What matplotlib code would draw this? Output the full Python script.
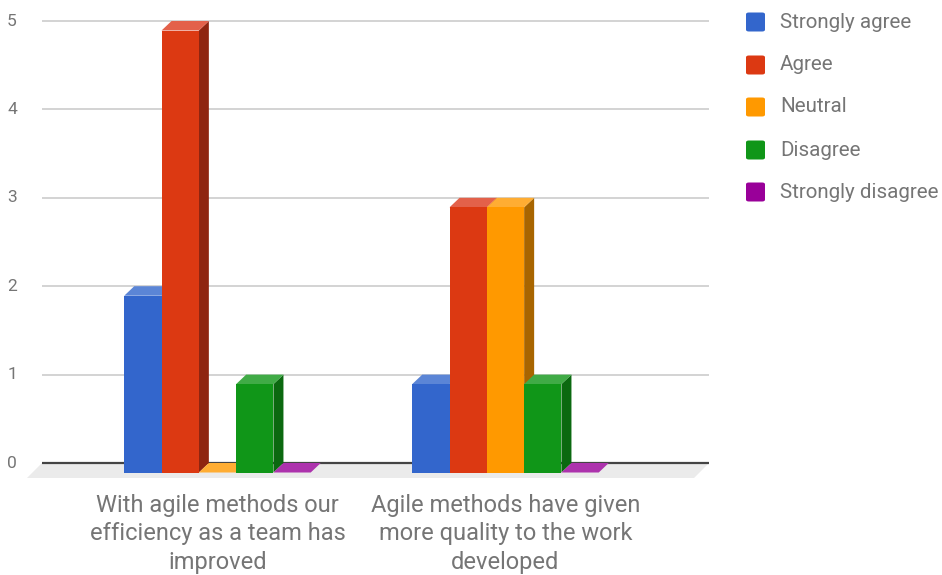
import matplotlib
matplotlib.use("Agg")
import matplotlib.pyplot as plt
from matplotlib.patches import Polygon, FancyBboxPatch

plt.rcParams['font.family'] = ['Roboto', 'DejaVu Sans']

# ---- data ----
categories = ["With agile methods our\nefficiency as a team has\nimproved",
              "Agile methods have given\nmore quality to the work\ndeveloped"]
series_names = ["Strongly agree", "Agree", "Neutral", "Disagree", "Strongly disagree"]
strongly_agree = [2, 1]
agree = [5, 3]
neutral = [0, 3]
disagree = [1, 1]
strongly_disagree = [0, 0]
y_ticks = [0, 1, 2, 3, 4, 5]

series_values = [strongly_agree, agree, neutral, disagree, strongly_disagree]
front_colors = ["#3366cc", "#dc3912", "#ff9900", "#109618", "#990099"]
top_colors = ["#5b85d6", "#e3614a", "#ffad33", "#40ab46", "#ad33ad"]
side_colors = ["#24478f", "#8f2510", "#a86500", "#0b6910", "#660066"]

# ---- layout (pixels) ----
W, H = 942, 575
fig = plt.figure(figsize=(W / 100, H / 100), dpi=100)
ax = fig.add_axes([0, 0, 1, 1])
ax.axis('off')

X_UNIT = 288.0      # px per category
Y_UNIT = 88.4       # px per value unit
X0_PX = 227.5       # px (from left) of category 0 centre (back plane)
Y0_PX = 463.0       # px (from top) of value 0 (back plane)

ax.set_xlim(-X0_PX / X_UNIT, (W - X0_PX) / X_UNIT)
ax.set_ylim(-(H - Y0_PX) / Y_UNIT, Y0_PX / Y_UNIT)

def px_x(px):
    return (px - X0_PX) / X_UNIT

DX = 10 / X_UNIT
DY = 9.5 / Y_UNIT
BAR_W = 37.3 / X_UNIT

grid_l, grid_r = px_x(42), px_x(709)

# floor
fdx, fdy = 15 / X_UNIT, 15 / Y_UNIT
ax.add_patch(Polygon([(grid_l, 0), (grid_r, 0), (grid_r - fdx, -fdy), (grid_l - fdx, -fdy)],
                     closed=True, facecolor="#ebebeb", edgecolor="none", zorder=1))

# gridlines
for t in y_ticks:
    if t == 0:
        continue
    ax.plot([grid_l, grid_r], [t, t], color="#cccccc", lw=1.2, zorder=2, solid_capstyle='butt')
ax.plot([grid_l, grid_r], [0, 0], color="#444444", lw=1.6, zorder=3, solid_capstyle='butt')

# y tick labels
for t in y_ticks:
    ax.text(px_x(12), t, str(t), ha='center', va='center', fontsize=12.5, color="#757575", zorder=5)

# bars (3D style)
n = len(series_values)
z = 4
for ci in range(len(categories)):
    left_back = ci - n * BAR_W / 2
    for si in range(n):
        v = series_values[si][ci]
        xb = left_back + si * BAR_W   # back-left x
        xf = xb - DX                   # front-left x
        yf0 = -DY
        yf1 = v - DY
        # side face
        ax.add_patch(Polygon([(xf + BAR_W, yf0), (xb + BAR_W, 0), (xb + BAR_W, v), (xf + BAR_W, yf1)],
                             closed=True, facecolor=side_colors[si], edgecolor='none', zorder=z))
        # top face
        ax.add_patch(Polygon([(xf, yf1), (xf + BAR_W, yf1), (xb + BAR_W, v), (xb, v)],
                             closed=True, facecolor=top_colors[si], edgecolor='none', zorder=z))
        # front face
        if v > 0:
            ax.bar(xf, v, width=BAR_W, bottom=yf0, align='edge', color=front_colors[si],
                   edgecolor='none', zorder=z)
        z += 0.01

# category labels
for ci, lab in enumerate(categories):
    ax.text(ci - DX, (Y0_PX - 494) / Y_UNIT, lab, ha='center', va='top', fontsize=17,
            color="#757575", linespacing=1.3, zorder=5)

# legend
leg_y = [22, 65, 107, 150, 192]
for si, name in enumerate(series_names):
    yc = leg_y[si]
    sq = 19
    fig.patches.append(FancyBboxPatch(((746) / W, (H - yc - sq / 2) / H), sq / W, sq / H,
                                      boxstyle="round,pad=0,rounding_size=0.003",
                                      transform=fig.transFigure, facecolor=front_colors[si],
                                      edgecolor='none'))
    fig.text(780 / W, (H - yc) / H, name, ha='left', va='center', fontsize=14.8, color="#757575")

fig.savefig("out.png", dpi=100)
